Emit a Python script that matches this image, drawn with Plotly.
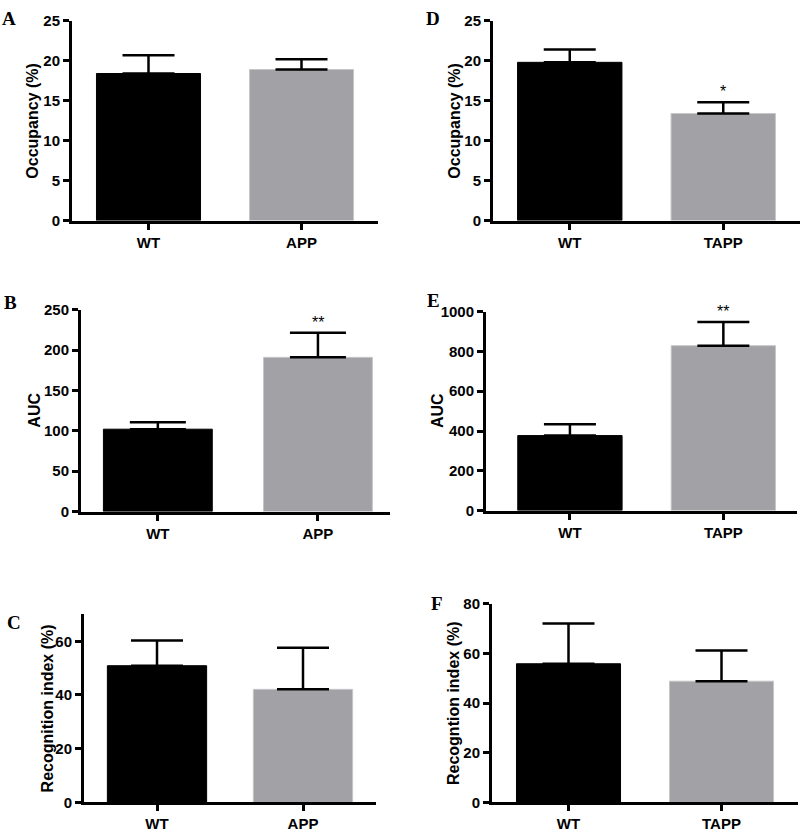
import plotly.graph_objects as go

W, H = 800, 833

# ---- data ----
panel_letters = ["A", "B", "C", "D", "E", "F"]
cats_left = ["WT", "APP"]
cats_right = ["WT", "TAPP"]

occ_app_mean = [18.4, 18.9]
occ_app_err = [2.3, 1.3]
auc_app_mean = [102, 191]
auc_app_err = [8.5, 30.5]
rec_app_mean = [50.9, 42.1]
rec_app_err = [9.4, 15.5]

occ_tapp_mean = [19.8, 13.4]
occ_tapp_err = [1.6, 1.4]
auc_tapp_mean = [377, 829]
auc_tapp_err = [57, 119]
rec_tapp_mean = [55.8, 48.8]
rec_tapp_err = [16.2, 12.3]

ytitles = ["Occupancy (%)", "AUC", "Recognition index (%)",
           "Occupancy (%)", "AUC", "Recogntion index (%)"]
sig_marks = [["", ""], ["", "**"], ["", ""], ["", "*"], ["", "**"], ["", ""]]

y_ranges = [[0, 25], [0, 250], [0, 70], [0, 25], [0, 1000], [0, 80]]
y_dticks = [5, 50, 20, 5, 200, 20]

# ---- layout geometry (pixels) ----
geom = [
    (72, 378, 12, 216, [-0.5, 1.5]),
    (81, 390, 307, 513, [-0.48, 1.45]),
    (84, 376, 618, 810, [-0.5, 1.5]),
    (493, 800, 12, 216, [-0.5, 1.5]),
    (486, 797, 309, 512, [-0.547, 1.48]),
    (492, 798, 607, 810, [-0.5, 1.5]),
]
letter_pos = [(9, 10), (10, 300), (14, 626), (433, 10), (433, 298), (437, 607)]
title_x = [33, 35, 47, 455, 437, 453]
cap_half = [26, 28, 26, 26, 26, 26]

means = [occ_app_mean, auc_app_mean, rec_app_mean,
         occ_tapp_mean, auc_tapp_mean, rec_tapp_mean]
errs = [occ_app_err, auc_app_err, rec_app_err,
        occ_tapp_err, auc_tapp_err, rec_tapp_err]
cats = [cats_left] * 3 + [cats_right] * 3

BLACK = "#000000"
GRAY = "#a2a1a6"
FONT = "Liberation Sans"

fig = go.Figure()
annotations = []
layout_axes = {}

for i in range(6):
    n = i + 1
    xa = "x" if n == 1 else f"x{n}"
    ya = "y" if n == 1 else f"y{n}"
    x0, x1, yt, yb, xr = geom[i]
    fig.add_trace(go.Bar(
        x=cats[i], y=means[i], xaxis=xa, yaxis=ya,
        width=0.68,
        marker=dict(color=[BLACK, GRAY],
                    line=dict(color=["#000000", "#c6c6c9"], width=1)),
        error_y=dict(type="data", symmetric=False, array=errs[i],
                     arrayminus=[0, 0], color="black", thickness=2.5,
                     width=cap_half[i]),
        showlegend=False, hoverinfo="skip",
    ))
    axis_common = dict(showgrid=False, zeroline=False, showline=True,
                       linecolor="black", linewidth=3, ticks="outside",
                       ticklen=6, tickwidth=3, tickcolor="black",
                       tickfont=dict(family=FONT, size=15, color="black",
                                     weight="bold"))
    layout_axes["xaxis" if n == 1 else f"xaxis{n}"] = dict(
        axis_common, domain=[x0 / W, x1 / W], range=xr,
        anchor=ya, type="category")
    layout_axes["yaxis" if n == 1 else f"yaxis{n}"] = dict(
        axis_common, domain=[1 - yb / H, 1 - yt / H], range=y_ranges[i],
        dtick=y_dticks[i], tick0=0, anchor=xa)
    annotations.append(dict(
        text=ytitles[i], xref="paper", yref="paper",
        x=title_x[i] / W, y=1 - (yt + yb) / 2 / H, textangle=-90,
        showarrow=False, xanchor="center", yanchor="middle",
        font=dict(family=FONT, size=16, color="black", weight="bold")))
    lx, ly = letter_pos[i]
    annotations.append(dict(
        text=panel_letters[i], xref="paper", yref="paper",
        x=lx / W, y=1 - ly / H, showarrow=False,
        xanchor="center", yanchor="middle",
        font=dict(family="Liberation Serif", size=19, color="black",
                  weight="bold")))
    for j, s in enumerate(sig_marks[i]):
        if s:
            annotations.append(dict(
                text=s, xref=xa, yref=ya, x=cats[i][j],
                y=means[i][j] + errs[i][j], showarrow=False,
                xanchor="center", yanchor="bottom", yshift=0,
                font=dict(family=FONT, size=16, color="black")))

fig.update_layout(
    width=W, height=H, margin=dict(l=0, r=0, t=0, b=0),
    paper_bgcolor="white", plot_bgcolor="white",
    annotations=annotations, bargap=0.32,
    **layout_axes,
)

fig.write_html(
    "out.html",
    config={"displayModeBar": False, "staticPlot": True},
    post_script=(
        "document.documentElement.style.margin='0';"
        "document.documentElement.style.overflow='hidden';"
        "document.body.style.margin='0';"
        "document.body.style.padding='0';"
        "document.body.style.overflow='hidden';"
        "var gd=document.getElementById('{plot_id}');"
        "gd.style.position='absolute';gd.style.top='0px';gd.style.left='0px';"
    ),
)
